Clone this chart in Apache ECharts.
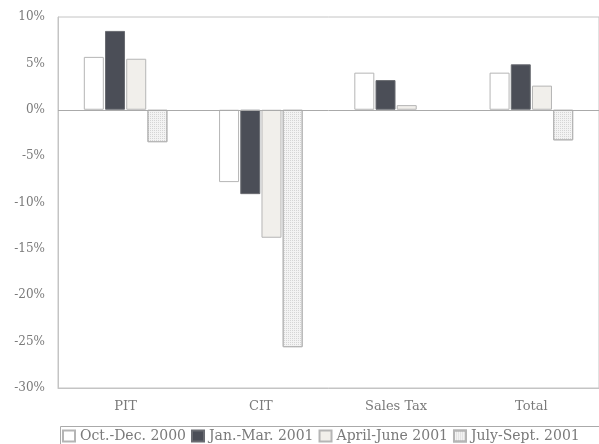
<!DOCTYPE html>
<html>
<head>
<meta charset="utf-8">
<script src="https://cdn.jsdelivr.net/npm/echarts@6/dist/echarts.min.js"></script>
<style>
  html, body { margin: 0; padding: 0; background: #fff; }
  #main { width: 599px; height: 444px; }
</style>
</head>
<body>
<div id="main"></div>
<script>
var categories = ['PIT', 'CIT', 'Sales Tax', 'Total'];
var octDec2000 = [5.7, -7.8, 4.0, 4.0];
var janMar2001 = [8.5, -9.1, 3.2, 4.9];
var aprJun2001 = [5.5, -13.8, 0.5, 2.6];
var julSep2001 = [-3.5, -25.6, null, -3.3];
var seriesNames = ['Oct.-Dec. 2000', 'Jan.-Mar. 2001', 'April-June 2001', 'July-Sept. 2001'];

var font = 'DejaVu Serif';
var textColor = '#7a7a7a';

function bar(name, data, style) {
  return {
    name: name,
    type: 'bar',
    data: data,
    barWidth: 20,
    barGap: '6%',
    itemStyle: style,
    emphasis: { disabled: true }
  };
}

var option = {
  animation: false,
  grid: {
    left: 58, right: 0, top: 17, bottom: 56,
    show: true, borderColor: '#c4c4c4', borderWidth: 1
  },
  legend: {
    left: 57, top: 424,
    icon: 'rect',
    itemWidth: 12, itemHeight: 11, itemGap: 5,
    textStyle: { fontFamily: font, fontSize: 14, color: textColor },
    data: seriesNames
  },
  graphic: [{
    type: 'rect', left: 58, top: 424,
    shape: { width: 539, height: 30 },
    style: { fill: 'none', stroke: '#aaa', lineWidth: 1 }
  }],
  xAxis: {
    type: 'category',
    data: categories,
    axisLine: { onZero: false, lineStyle: { color: '#c4c4c4' } },
    axisTick: { show: false },
    axisLabel: { fontFamily: font, fontSize: 13, color: textColor, margin: 12 }
  },
  yAxis: {
    type: 'value',
    min: -30, max: 10, interval: 5,
    axisLine: { show: true, lineStyle: { color: '#c4c4c4' } },
    axisTick: { show: false },
    splitLine: { show: false },
    axisLabel: { fontFamily: font, fontSize: 12, color: textColor, margin: 13,
      formatter: function (v) { return v + '%'; } }
  },
  series: [
    Object.assign(bar(seriesNames[0], octDec2000, { color: '#ffffff', borderColor: '#b5b5b5', borderWidth: 1 }), {
      markLine: {
        silent: true, symbol: 'none', label: { show: false },
        lineStyle: { color: '#aaa', type: 'solid', width: 1 },
        data: [{ yAxis: 0 }]
      }
    }),
    bar(seriesNames[1], janMar2001, { color: '#4b4e57', borderColor: '#6a6c72', borderWidth: 1 }),
    bar(seriesNames[2], aprJun2001, { color: '#f1efeb', borderColor: '#b5b5b5', borderWidth: 1 }),
    bar(seriesNames[3], julSep2001, {
      color: '#f3f3f3', borderColor: '#b5b5b5', borderWidth: 1,
      decal: { symbol: 'rect', symbolSize: 1, color: 'rgba(0,0,0,0.12)',
        dashArrayX: [1, 1], dashArrayY: [1, 1], rotation: 0 }
    })
  ]
};

var chart = echarts.init(document.getElementById('main'));
chart.setOption(option);
</script>
</body>
</html>
